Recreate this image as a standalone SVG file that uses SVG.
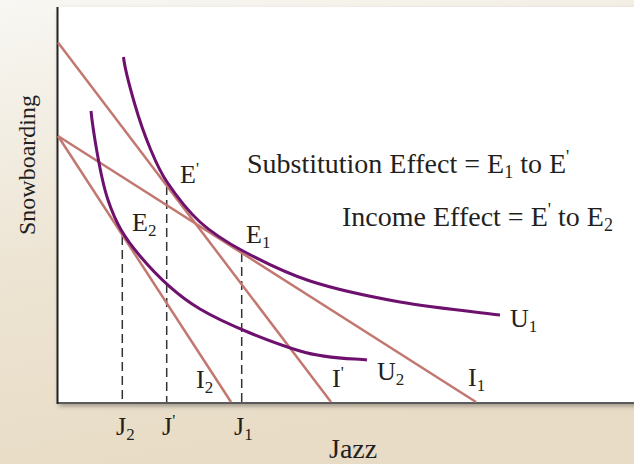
<svg xmlns="http://www.w3.org/2000/svg" width="634" height="464" viewBox="0 0 634 464">
<defs>
<linearGradient id="bg" x1="0" y1="0" x2="0.25" y2="1">
<stop offset="0" stop-color="#f8f7f3"/>
<stop offset="0.55" stop-color="#ede4d3"/>
<stop offset="1" stop-color="#e8dcc6"/>
</linearGradient>
<filter id="shadow" x="-5%" y="-5%" width="115%" height="115%">
<feDropShadow dx="1" dy="3" stdDeviation="2.5" flood-color="#000" flood-opacity="0.35"/>
</filter>
<style>
text{font-family:"Liberation Serif","Times New Roman",serif;fill:#231f20;font-size:26px}
.big{font-size:28px}
.sub{font-size:17px}
.sup{font-size:17px}
.big .sub,.big .sup{font-size:18px}
.budget{stroke:#c27870;stroke-width:2.5;fill:none}
.indiff{stroke:#6e106e;stroke-width:3;fill:none}
.dash{stroke:#333;stroke-width:1.5;stroke-dasharray:9 5;fill:none}
</style>
</defs>
<rect x="0" y="0" width="634" height="464" fill="url(#bg)"/>
<rect x="58" y="7" width="590" height="396" fill="#fff" filter="url(#shadow)"/>
<g id="axes">
<line x1="58" y1="403" x2="634" y2="403" stroke="#5a5a5a" stroke-width="2"/>
<line x1="57.5" y1="7" x2="57.5" y2="404" stroke="#222" stroke-width="2"/>
</g>
<g id="connectors">
<line class="dash" x1="122.3" y1="236" x2="122.3" y2="402"/>
<line class="dash" x1="166.7" y1="186" x2="166.7" y2="402"/>
<line class="dash" x1="241.7" y1="253" x2="241.7" y2="402"/>
<line class="budget" x1="58" y1="42.5" x2="331" y2="402"/>
<line class="budget" x1="58" y1="136" x2="476" y2="402"/>
<line class="budget" x1="58" y1="136" x2="231" y2="402"/>
<path class="indiff" d="M123.5,57 C124.5,67 130.58,89.83 135,105 C139.42,120.17 144.67,135.17 150,148 C155.33,160.83 158.67,169.67 167,182 C175.33,194.33 187.33,210.5 200,222 C212.67,233.5 224.67,241.17 243,251 C261.33,260.83 283.83,272.5 310,281 C336.17,289.5 368.33,296.33 400,302 C431.67,307.67 483.33,312.83 500,315"/>
<path class="indiff" d="M91,111 C92.5,125.83 99.83,175.83 108,200 C116.17,224.17 124.67,237.83 140,256 C155.33,274.17 173.33,293.17 200,309 C226.67,324.83 272.17,342.5 300,351 C327.83,359.5 355.83,358.5 367,360"/>
</g>
<g id="labels">
<text x="180" y="183">E<tspan class="sup" dy="-9">'</tspan></text>
<text x="132" y="231">E<tspan class="sub" dy="5">2</tspan></text>
<text x="246" y="243">E<tspan class="sub" dy="5">1</tspan></text>
<text class="big" x="247" y="173">Substitution Effect = E<tspan class="sub" dy="5">1</tspan><tspan dy="-5"> to E</tspan><tspan class="sup" dy="-10">'</tspan></text>
<text class="big" x="342" y="226">Income Effect = E<tspan class="sup" dy="-10">'</tspan><tspan dy="10"> to E</tspan><tspan class="sub" dy="5">2</tspan></text>
<text x="510" y="327">U<tspan class="sub" dy="5">1</tspan></text>
<text x="377" y="380">U<tspan class="sub" dy="5">2</tspan></text>
<text x="332" y="387">I<tspan class="sup" dy="-9">'</tspan></text>
<text x="468" y="386">I<tspan class="sub" dy="5">1</tspan></text>
<text x="196" y="388">I<tspan class="sub" dy="5">2</tspan></text>
<text x="116" y="435">J<tspan class="sub" dy="5">2</tspan></text>
<text x="162" y="435">J<tspan class="sup" dy="-9">'</tspan></text>
<text x="234" y="435">J<tspan class="sub" dy="5">1</tspan></text>
<text class="big" x="329" y="458">Jazz</text>
<text transform="translate(35,165) rotate(-90)" text-anchor="middle" style="font-size:24px">Snowboarding</text>
</g>
</svg>
